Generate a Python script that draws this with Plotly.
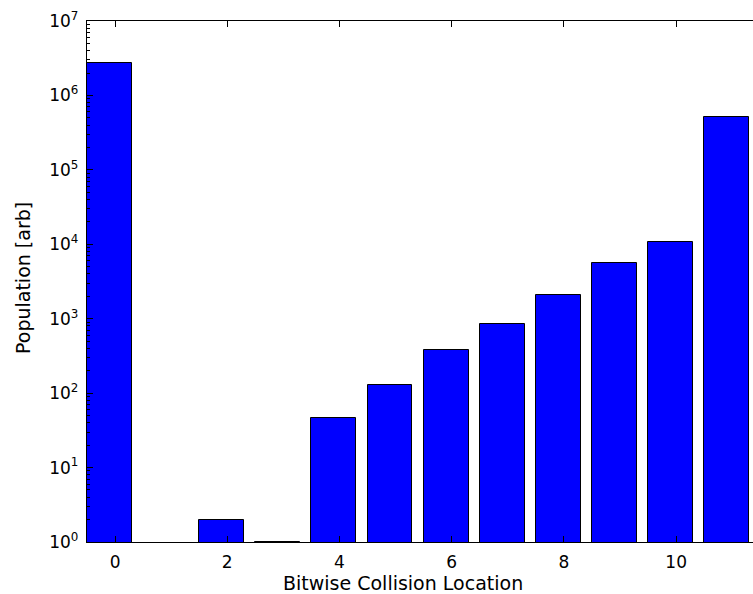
import plotly.graph_objects as go

# Collision counts per bit position
locations = list(range(12))
population = [2.7e6, 0, 2, 1, 47, 129, 380, 840, 2080, 5600, 10800, 518000]

# Log-axis decades and labels
decades = [10 ** k for k in range(8)]
decade_labels = [f"10<sup>{k}</sup>" for k in range(8)]
minor_vals = [m * 10 ** k for k in range(7) for m in range(2, 10)]

x_title = "Bitwise Collision Location"
y_title = "Population [arb]"

FONT = "DejaVu Sans"

fig = go.Figure(
    go.Bar(
        x=locations,
        y=population,
        width=0.8,
        offset=-0.5,
        marker=dict(color="#0000ff", line=dict(color="black", width=1)),
    )
)

fig.update_layout(
    width=753,
    height=594,
    margin=dict(l=87, r=0, t=21, b=52),
    paper_bgcolor="white",
    plot_bgcolor="white",
    font=dict(family=FONT, size=17, color="black"),
    showlegend=False,
    bargap=0,
)

fig.update_xaxes(
    range=[-0.5, 11.37],
    tickmode="array",
    tickvals=[0, 2, 4, 6, 8, 10],
    ticks="inside",
    ticklen=6,
    tickwidth=1,
    tickcolor="black",
    showline=True,
    linecolor="black",
    linewidth=1.3,
    mirror="ticks",
    showgrid=False,
    zeroline=False,
    ticklabelstandoff=4,
)

fig.update_yaxes(
    type="log",
    range=[0, 7],
    tickmode="array",
    tickvals=decades,
    ticktext=decade_labels,
    ticks="inside",
    ticklen=6,
    tickwidth=1,
    tickcolor="black",
    showline=True,
    linecolor="black",
    linewidth=1.3,
    mirror=False,
    showgrid=False,
    zeroline=False,
    ticklabelstandoff=4,
    minor=dict(tickvals=minor_vals, ticks="inside", ticklen=3,
               tickcolor="black", showgrid=False),
)

# Axis titles placed as paper-anchored annotations
fig.add_annotation(text=x_title, xref="paper", yref="paper",
                   x=0.4745, y=-0.0787, xanchor="center", yanchor="middle",
                   showarrow=False, font=dict(family=FONT, size=19))
fig.add_annotation(text=y_title, xref="paper", yref="paper",
                   x=-0.0961, y=0.5067, xanchor="center", yanchor="middle",
                   textangle=-90, showarrow=False,
                   font=dict(family=FONT, size=19))

fig.write_html("out.html")
